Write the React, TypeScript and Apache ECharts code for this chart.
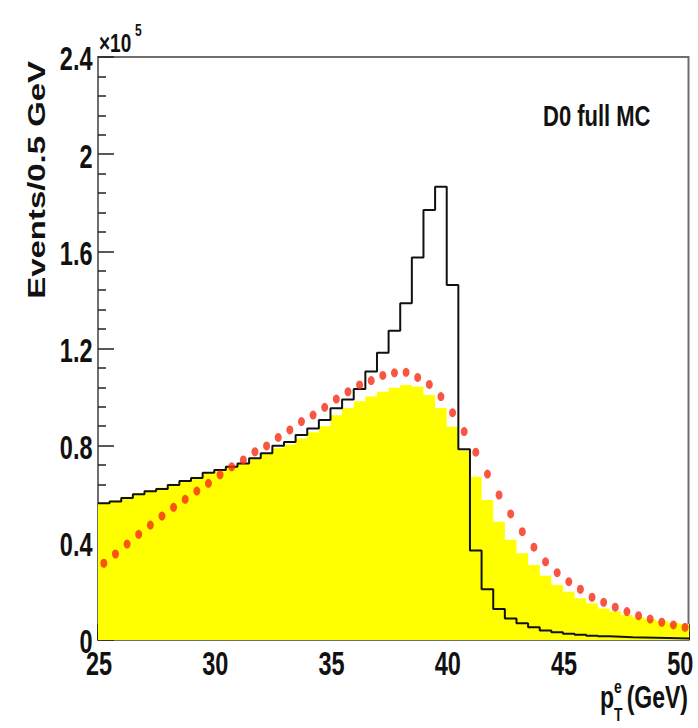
import React, { useEffect, useRef } from "react";
import * as echarts from "echarts";

// ---- data (values in units of 10^5 events per 0.5 GeV bin) ----
const BIN_START = 25; // GeV, lower edge of first bin
const BIN_WIDTH = 0.5; // GeV
const X_MIN = 25;
const X_MAX = 50.4;
const Y_MIN = 0;
const Y_MAX = 2.4;
const X_TICKS = [25, 30, 35, 40, 45, 50];
const Y_TICKS = [0, 0.4, 0.8, 1.2, 1.6, 2, 2.4];

// yellow filled histogram (bins 25.0 .. 50.0)
const yellowHist = [
  0.566, 0.575, 0.59, 0.604, 0.616, 0.628, 0.643, 0.658, 0.672, 0.69,
  0.703, 0.717, 0.731, 0.75, 0.768, 0.79, 0.805, 0.83, 0.855, 0.88,
  0.925, 0.955, 0.983, 1.002, 1.022, 1.038, 1.05, 1.043, 1.009, 0.955,
  0.878, 0.78, 0.672, 0.576, 0.487, 0.413, 0.357, 0.309, 0.265, 0.226,
  0.199, 0.172, 0.151, 0.13, 0.117, 0.103, 0.093, 0.085, 0.078, 0.071,
  0.066,
];

// black outline histogram (bins 25.0 .. 50.0)
const blackHist = [
  0.563, 0.57, 0.585, 0.6, 0.612, 0.622, 0.638, 0.655, 0.667, 0.688,
  0.7, 0.713, 0.727, 0.748, 0.769, 0.8, 0.815, 0.844, 0.871, 0.906,
  0.954, 0.99, 1.033, 1.105, 1.183, 1.273, 1.386, 1.575, 1.77, 1.866,
  1.461, 0.785, 0.368, 0.209, 0.128, 0.089, 0.069, 0.052, 0.039, 0.032,
  0.026, 0.022, 0.018, 0.015, 0.013, 0.011, 0.01, 0.009, 0.008, 0.007,
  0.006,
];

// red points at bin centres (25.25 .. 50.25)
const redPoints = [
  0.316, 0.354, 0.395, 0.435, 0.473, 0.51, 0.546, 0.579, 0.613, 0.645,
  0.68, 0.713, 0.741, 0.775, 0.799, 0.834, 0.865, 0.899, 0.926, 0.958,
  0.992, 1.022, 1.05, 1.068, 1.089, 1.1, 1.102, 1.081, 1.052, 1.002,
  0.936, 0.858, 0.773, 0.683, 0.597, 0.519, 0.446, 0.382, 0.322, 0.277,
  0.24, 0.209, 0.176, 0.155, 0.135, 0.117, 0.1, 0.086, 0.073, 0.062,
  0.052,
];

const TEXT_FONT = '"Liberation Sans", Arial, Helvetica, sans-serif';
const STRETCH = 1.38; // the reference's lettering is vertically stretched

function histEdges(vals: number[]) {
  const pts = vals.map((v, i) => [BIN_START + i * BIN_WIDTH, v]);
  pts.push([BIN_START + vals.length * BIN_WIDTH, vals[vals.length - 1]]);
  return pts;
}

function txt(
  text: string,
  x: number,
  y: number,
  size: number,
  align: string,
  extra: Record<string, unknown> = {}
) {
  return {
    type: "text",
    x,
    y,
    scaleY: STRETCH,
    ...extra,
    style: {
      text,
      fill: "#111",
      font: `bold ${size}px ${TEXT_FONT}`,
      align,
      verticalAlign: "middle",
    },
  };
}

export default function App() {
  const ref = useRef<HTMLDivElement>(null);

  useEffect(() => {
    if (!ref.current) return;
    const chart = echarts.init(ref.current, null, { renderer: "svg" });
    const tickStyle = { color: "#222", width: 1.5 };
    const axisLineStyle = { color: "#6e6e6e", width: 2 };

    chart.setOption({
      animation: false,
      backgroundColor: "#ffffff",
      grid: {
        left: 98,
        top: 57,
        right: 9.5,
        bottom: 88,
        show: true,
        borderColor: "#6e6e6e",
        borderWidth: 2,
        backgroundColor: "transparent",
      },
      xAxis: [
        {
          type: "value",
          min: X_MIN,
          max: X_MAX,
          interval: 5,
          position: "bottom",
          axisLine: { show: true, onZero: false, lineStyle: axisLineStyle },
          axisTick: { show: true, inside: true, length: 16, lineStyle: tickStyle },
          axisLabel: { show: false },
          splitLine: { show: false },
        },
        {
          type: "value",
          min: X_MIN,
          max: X_MAX,
          interval: 1,
          position: "bottom",
          axisLine: { show: false },
          axisTick: { show: true, inside: true, length: 8, lineStyle: tickStyle },
          axisLabel: { show: false },
          splitLine: { show: false },
        },
      ],
      yAxis: {
        type: "value",
        min: Y_MIN,
        max: Y_MAX,
        interval: 0.4,
        axisLine: { show: true, onZero: false, lineStyle: axisLineStyle },
        axisTick: { show: true, inside: true, length: 16, lineStyle: tickStyle },
        minorTick: { show: true, splitNumber: 5, length: 8, lineStyle: tickStyle },
        axisLabel: { show: false },
        splitLine: { show: false },
      },
      series: [
        {
          type: "line",
          xAxisIndex: 0,
          step: "end",
          data: histEdges(yellowHist),
          symbol: "none",
          lineStyle: { width: 0, opacity: 0 },
          areaStyle: { color: "#ffff00", opacity: 1 },
          z: 1,
        },
        {
          type: "line",
          xAxisIndex: 0,
          step: "end",
          data: histEdges(blackHist),
          symbol: "none",
          lineStyle: { color: "#111", width: 2 },
          z: 2,
        },
        {
          type: "scatter",
          xAxisIndex: 0,
          data: redPoints.map((v, i) => [BIN_START + (i + 0.5) * BIN_WIDTH, v]),
          symbol: "circle",
          symbolSize: [7, 9],
          itemStyle: { color: "#f82a14" },
          z: 3,
        },
      ],
    });

    // tick labels placed through the axes' own scales
    const yLabels = Y_TICKS.map((v) => {
      const py = chart.convertToPixel({ yAxisIndex: 0 }, v) as number;
      return txt(String(v), 92.5, py + 2, 23.5, "right");
    });
    const xLabels = X_TICKS.map((v) => {
      const px = chart.convertToPixel({ xAxisIndex: 0 }, v) as number;
      return txt(String(v), px + 1, 664, 23.5, "center");
    });

    chart.setOption({
      graphic: [
        ...yLabels,
        ...xLabels,
        {
          type: "text",
          x: 36.5,
          y: 61,
          rotation: Math.PI / 2,
          scaleX: 1.4,
          style: {
            text: "Events/0.5 GeV",
            fill: "#111",
            font: `bold 23.5px ${TEXT_FONT}`,
            align: "right",
            verticalAlign: "middle",
          },
        },
        txt("D0 full MC", 543, 116, 22, "left"),
        txt("×10", 99, 43, 19, "left"),
        txt("5", 135, 30, 12, "left"),
        txt("p", 600, 697, 23, "left"),
        txt("e", 614, 686, 14, "left", { scaleY: 1.3 }),
        txt("T", 614, 714, 14, "left", { scaleY: 1.3 }),
        txt("(GeV)", 688, 697, 23, "right"),
      ],
    });

    return () => chart.dispose();
  }, []);

  return (
    <div
      ref={ref}
      style={{ position: "fixed", left: 0, top: 0, width: 698, height: 728 }}
    />
  );
}
